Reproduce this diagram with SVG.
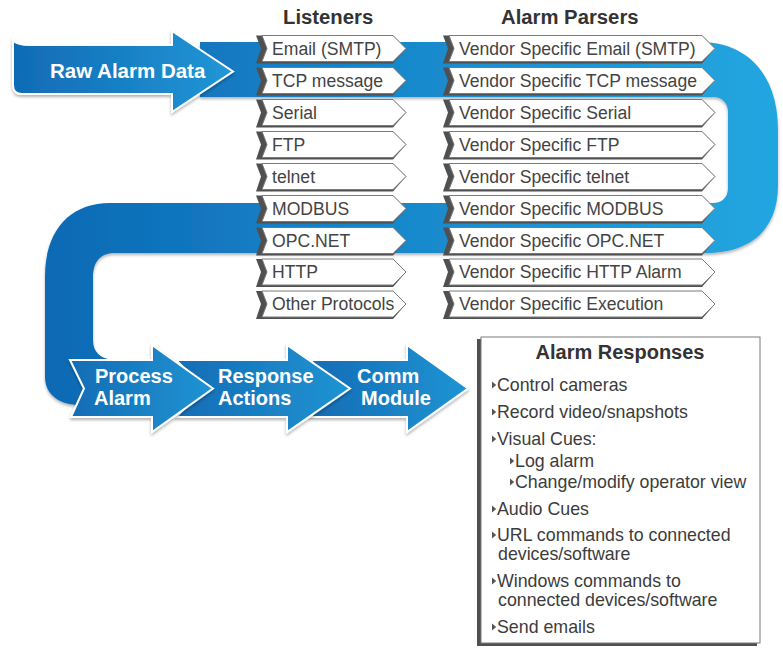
<svg xmlns="http://www.w3.org/2000/svg" xmlns:xlink="http://www.w3.org/1999/xlink" width="783" height="649" viewBox="0 0 783 649">
<style>
.hd{font-family:"Liberation Sans",Arial,sans-serif;font-weight:bold;font-size:20.3px;fill:#333}
.wt{font-family:"Liberation Sans",Arial,sans-serif;font-weight:bold;font-size:20px;fill:#fff}
.tg{font-family:"Liberation Sans",Arial,sans-serif;font-size:17.6px;fill:#444}
.it{font-family:"Liberation Sans",Arial,sans-serif;font-size:17.8px;fill:#3c3c3c}
.sh{fill:#505050}
.bd{fill:#fff;stroke:#7a7a7a;stroke-width:1}
.ar{stroke:#fff;stroke-width:2;stroke-linejoin:miter;filter:url(#ds)}
.bl{fill:#555}
</style>
<defs>
<linearGradient id="gS" gradientUnits="userSpaceOnUse" x1="45" y1="0" x2="778" y2="0">
<stop offset="0" stop-color="#0c69b4"/><stop offset="0.35" stop-color="#1580c6"/><stop offset="0.7" stop-color="#1d95d4"/><stop offset="1" stop-color="#22a6e0"/>
</linearGradient>
<linearGradient id="gA" x1="0" y1="0" x2="1" y2="0">
<stop offset="0" stop-color="#106bb5"/><stop offset="1" stop-color="#2196d5"/>
</linearGradient>
<linearGradient id="gB" x1="0" y1="0" x2="1" y2="0">
<stop offset="0" stop-color="#136cb5"/><stop offset="1" stop-color="#2094d3"/>
</linearGradient>
<filter id="ds" x="-10%" y="-10%" width="120%" height="130%">
<feDropShadow dx="0" dy="2" stdDeviation="1.6" flood-color="#000" flood-opacity="0.3"/>
</filter>
<path id="lsh" d="M256,-13 L393,-13 L406,0 L393,15 L256,15 L261,0 Z"/>
<path id="lbd" d="M262,-13 L393,-13 L406,0 L393,13 L262,13 L267,0 Z"/>
<path id="psh" d="M443,-13 L702,-13 L715,0 L702,15 L443,15 L448,0 Z"/>
<path id="pbd" d="M449,-13 L702,-13 L715,0 L702,13 L449,13 L454,0 Z"/>
<path id="bul" d="M0,-3.5 L4.2,0 L0,3.5 Z"/>
</defs>

<g id="connectors">
<path id="serpentine" fill="url(#gS)" filter="url(#ds)" d="M200,42 L700,42 C745,42 778,72 778,130 L778,185 C778,226 755,253 705,253 L115,253 C100,253 93,262 93,278 L93,340 C93,352 100,358 112,360 L130,360 L130,405 L80,405 C60,405 45,395 45,377 L45,277 C45,230 70,203 110,203 L713,203 C722,203 728,197 728,188 L728,112 C728,103 722,97 713,97 L200,97 Z"/>
</g>

<g id="raw-alarm-data">
<path fill="url(#gA)" class="ar" d="M13,40 Q16,45 30,45 L172,45 L172,31 L233,71.5 L172,112 L172,94 L22,94 Q13,94 13,85 Z"/>
<text class="wt" x="50" y="78" style="font-size:20.5px">Raw Alarm Data</text>
</g>

<text class="hd" x="283" y="24">Listeners</text>
<text class="hd" x="501" y="24">Alarm Parsers</text>

<g id="l-email"><use href="#lsh" y="48.5" class="sh"/><use href="#lbd" y="48.5" class="bd"/><text class="tg" x="272" y="54.5">Email (SMTP)</text></g>
<g id="l-tcp"><use href="#lsh" y="80.5" class="sh"/><use href="#lbd" y="80.5" class="bd"/><text class="tg" x="272" y="86.5">TCP message</text></g>
<g id="l-serial"><use href="#lsh" y="112.5" class="sh"/><use href="#lbd" y="112.5" class="bd"/><text class="tg" x="272" y="118.5">Serial</text></g>
<g id="l-ftp"><use href="#lsh" y="144.5" class="sh"/><use href="#lbd" y="144.5" class="bd"/><text class="tg" x="272" y="150.5">FTP</text></g>
<g id="l-telnet"><use href="#lsh" y="176.5" class="sh"/><use href="#lbd" y="176.5" class="bd"/><text class="tg" x="272" y="182.5">telnet</text></g>
<g id="l-modbus"><use href="#lsh" y="208.5" class="sh"/><use href="#lbd" y="208.5" class="bd"/><text class="tg" x="272" y="214.5">MODBUS</text></g>
<g id="l-opc"><use href="#lsh" y="240.5" class="sh"/><use href="#lbd" y="240.5" class="bd"/><text class="tg" x="272" y="246.5">OPC.NET</text></g>
<g id="l-http"><use href="#lsh" y="272" class="sh"/><use href="#lbd" y="272" class="bd"/><text class="tg" x="272" y="278">HTTP</text></g>
<g id="l-other"><use href="#lsh" y="304" class="sh"/><use href="#lbd" y="304" class="bd"/><text class="tg" x="272" y="310">Other Protocols</text></g>

<g id="p-email"><use href="#psh" y="48.5" class="sh"/><use href="#pbd" y="48.5" class="bd"/><text class="tg" x="459" y="54.5">Vendor Specific Email (SMTP)</text></g>
<g id="p-tcp"><use href="#psh" y="80.5" class="sh"/><use href="#pbd" y="80.5" class="bd"/><text class="tg" x="459" y="86.5">Vendor Specific TCP message</text></g>
<g id="p-serial"><use href="#psh" y="112.5" class="sh"/><use href="#pbd" y="112.5" class="bd"/><text class="tg" x="459" y="118.5">Vendor Specific Serial</text></g>
<g id="p-ftp"><use href="#psh" y="144.5" class="sh"/><use href="#pbd" y="144.5" class="bd"/><text class="tg" x="459" y="150.5">Vendor Specific FTP</text></g>
<g id="p-telnet"><use href="#psh" y="176.5" class="sh"/><use href="#pbd" y="176.5" class="bd"/><text class="tg" x="459" y="182.5">Vendor Specific telnet</text></g>
<g id="p-modbus"><use href="#psh" y="208.5" class="sh"/><use href="#pbd" y="208.5" class="bd"/><text class="tg" x="459" y="214.5">Vendor Specific MODBUS</text></g>
<g id="p-opc"><use href="#psh" y="240.5" class="sh"/><use href="#pbd" y="240.5" class="bd"/><text class="tg" x="459" y="246.5">Vendor Specific OPC.NET</text></g>
<g id="p-http"><use href="#psh" y="272" class="sh"/><use href="#pbd" y="272" class="bd"/><text class="tg" x="459" y="278">Vendor Specific HTTP Alarm</text></g>
<g id="p-exec"><use href="#psh" y="304" class="sh"/><use href="#pbd" y="304" class="bd"/><text class="tg" x="459" y="310">Vendor Specific Execution</text></g>

<g id="comm-module">
<path fill="url(#gB)" class="ar" d="M310,360 L407,360 L407,345 L468,388.5 L407,432 L407,417 L310,417 L338,388.5 Z"/>
<text class="wt" x="357" y="383">Comm</text><text class="wt" x="361" y="405">Module</text>
</g>
<g id="response-actions">
<path fill="url(#gB)" class="ar" d="M176,360 L287,360 L287,345 L350,388.5 L287,432 L287,417 L176,417 L205,388.5 Z"/>
<text class="wt" x="218" y="383">Response</text><text class="wt" x="218" y="405">Actions</text>
</g>
<g id="process-alarm">
<path fill="url(#gB)" class="ar" d="M70,360 L152,360 L152,345 L213,388.5 L152,432 L152,417 L71,417 L84,388.5 Z"/>
<text class="wt" x="95" y="383">Process</text><text class="wt" x="94" y="405">Alarm</text>
</g>

<g id="alarm-responses">
<rect x="477" y="339" width="280" height="307" class="sh"/>
<rect x="481" y="337" width="279" height="306" class="bd"/>
<text class="hd" x="620" y="359" text-anchor="middle" style="font-size:20px">Alarm Responses</text>
<use href="#bul" x="492" y="385" class="bl"/><text class="it" x="497" y="391">Control cameras</text>
<use href="#bul" x="492" y="412" class="bl"/><text class="it" x="497" y="418">Record video/snapshots</text>
<use href="#bul" x="492" y="439" class="bl"/><text class="it" x="497" y="445">Visual Cues:</text>
<use href="#bul" x="510" y="461" class="bl"/><text class="it" x="515" y="467">Log alarm</text>
<use href="#bul" x="510" y="482" class="bl"/><text class="it" x="515" y="488">Change/modify operator view</text>
<use href="#bul" x="492" y="509" class="bl"/><text class="it" x="497" y="515">Audio Cues</text>
<use href="#bul" x="492" y="535" class="bl"/><text class="it" x="497" y="541">URL commands to connected</text>
<text class="it" x="498" y="560">devices/software</text>
<use href="#bul" x="492" y="581" class="bl"/><text class="it" x="497" y="587">Windows commands to</text>
<text class="it" x="498" y="606">connected devices/software</text>
<use href="#bul" x="492" y="627" class="bl"/><text class="it" x="497" y="633">Send emails</text>
</g>
</svg>
